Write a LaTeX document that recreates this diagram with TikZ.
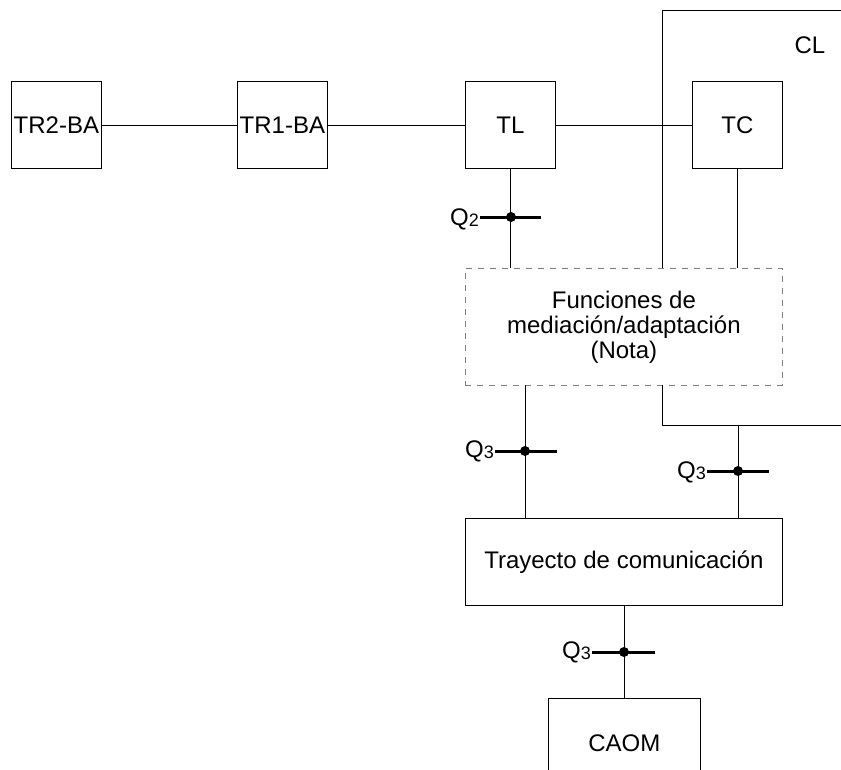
\documentclass[tikz,border=0pt]{standalone}
\usepackage{fontspec}
\setmainfont{Liberation Sans}
\begin{document}
\begin{tikzpicture}[x=1pt,y=-1pt,
  every node/.style={font=\fontsize{24}{25}\selectfont},
  blk/.style={draw, line width=0.8pt, inner sep=0pt, anchor=north west},
  ln/.style={line width=0.8pt},
  qbar/.style={line width=3pt},
  qdot/.style={fill, circle, inner sep=0pt, minimum size=10pt},
  dbox/.style={draw=gray, dashed, dash pattern=on 6pt off 6pt, line width=0.8pt, inner sep=0pt, anchor=north west, align=center}]
\useasboundingbox (0,0) rectangle (841,769);
\newcommand{\Qlab}[1]{Q{\fontsize{18}{18}\selectfont\raisebox{-1pt}{#1}}}
% boxes
\node[blk, minimum width=90pt, minimum height=87pt] (tr2) at (11,81) {TR2-BA};
\node[blk, minimum width=90pt, minimum height=87pt] (tr1) at (237,81) {TR1-BA};
\node[blk, minimum width=90pt, minimum height=87pt] (tl) at (465,81) {TL};
\node[blk, minimum width=90pt, minimum height=87pt] (tc) at (692,81) {TC};
\node[dbox, minimum width=317pt, minimum height=117pt] (med) at (465,268) {Funciones de\\mediación/adaptación\\(Nota)};
\node[blk, minimum width=317pt, minimum height=87pt] (tray) at (465,518) {Trayecto de comunicación};
\node[blk, minimum width=152pt, minimum height=90pt] (caom) at (548,698) {CAOM};
% CL
\node (cl) at (810,45) {CL};
\coordinate (cl1) at (662,268);
\coordinate (cl2) at (662,10);
\coordinate (cl3) at (841,10);
\draw[ln] (cl1) -- (cl2) -- (cl3);
\coordinate (cl4) at (662,385);
\coordinate (cl5) at (662,425);
\coordinate (cl6) at (841,425);
\draw[ln] (cl4) -- (cl5) -- (cl6);
% horizontal links
\draw[ln] (tr2.east) -- (tr1.west);
\draw[ln] (tr1.east) -- (tl.west);
\draw[ln] (tl.east) -- (tc.west);
% verticals
\draw[ln] (tl.south) -- (tl.south |- med.north);
\draw[ln] (tc.south) -- (tc.south |- med.north);
\coordinate (m3) at (525,385);
\draw[ln] (m3) -- (m3 |- tray.north);
\coordinate (c3) at (738,425);
\draw[ln] (c3) -- (c3 |- tray.north);
\coordinate (t3) at (624,605);
\draw[ln] (t3) -- (t3 |- caom.north);
% Q interfaces
\draw[qbar] (480,217) -- (541,217);
\node[qdot] (d2) at (511,217) {};
\node[anchor=east, inner sep=1pt] (q2) at (480,219) {\Qlab{2}};
\draw[qbar] (495,451) -- (557,451);
\node[qdot] (d3a) at (525,451) {};
\node[anchor=east, inner sep=1pt] (q3a) at (495,451) {\Qlab{3}};
\draw[qbar] (707,471) -- (769,471);
\node[qdot] (d3b) at (738,471) {};
\node[anchor=east, inner sep=1pt] (q3b) at (707,472) {\Qlab{3}};
\draw[qbar] (592,652) -- (655,652);
\node[qdot] (d3c) at (624,652) {};
\node[anchor=east, inner sep=1pt] (q3c) at (592,652) {\Qlab{3}};
\end{tikzpicture}
\end{document}
